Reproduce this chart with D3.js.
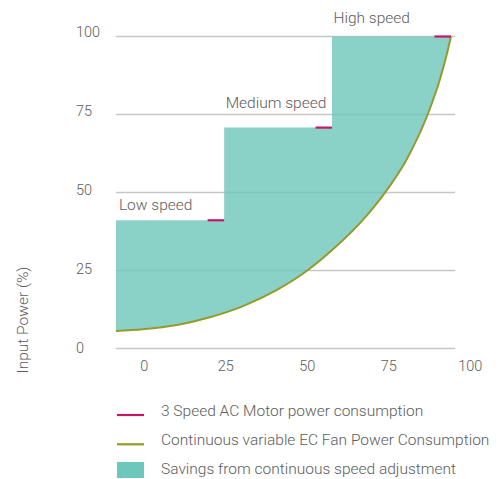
<!DOCTYPE html>
<html>
<head>
<meta charset="utf-8">
<script src="https://cdn.jsdelivr.net/npm/d3@7"></script>
<style>
  body { margin: 0; background: #fff; }
  svg { display: block; font-family: Roboto, "Open Sans", sans-serif; }
</style>
</head>
<body>
<svg id="chart" width="499" height="479"></svg>
<script>
// ---- data ----
const xTicks = [0, 25, 50, 75, 100];
const yTicks = [0, 25, 50, 75, 100];
const speedNames = ["Low speed", "Medium speed", "High speed"];
const stepStart = [-8.7, 24.5, 57.6];
const stepEnd = [24.5, 57.6, 94.1];
const stepPower = [41.1, 70.8, 100];
const curveSpeed = [-8.7, -0.4, 10.0, 20.1, 30.3, 40.7, 49.6, 57.9, 68.3, 73.8, 80.5, 87.1, 90.7, 92.8, 94.1];
const curvePower = [5.6, 6.15, 7.5, 10.0, 13.6, 18.8, 24.7, 31.8, 42.7, 49.9, 60.6, 75.4, 86.2, 94.2, 100];
const gridExtent = [-8.7, 95.4];
const legendLabels = [
  "3 Speed AC Motor power consumption",
  "Continuous variable EC Fan Power Consumption",
  "Savings from continuous speed adjustment"
];
const yTitle = "Input Power (%)";

// ---- styles ----
const C = {
  text: "#5c5c5c",
  grid: "#c6c6c6",
  fill: "#6dc7ba",
  curve: "#969a2c",
  marker: "#c4176c"
};
const FS = 15.5, FT = 14.5, FW = 300;

const svg = d3.select("#chart");
const x = d3.scaleLinear().domain([0, 100]).range([144.3, 470.2]);
const y = d3.scaleLinear().domain([0, 100]).range([348.5, 36.5]);
const yLab = d3.scaleLinear().domain([0, 100]).range([348, 31.7]);

// gridlines
svg.append("g").selectAll("line").data(yTicks).join("line")
  .attr("x1", x(gridExtent[0])).attr("x2", x(gridExtent[1]))
  .attr("y1", d => y(d)).attr("y2", d => y(d))
  .attr("stroke", C.grid).attr("stroke-width", 1.6);

// y tick labels
svg.append("g").selectAll("text").data(yTicks).join("text")
  .attr("x", 76).attr("y", d => yLab(d)).attr("dy", "0.35em")
  .attr("fill", C.text).attr("font-size", FT).attr("font-weight", FW)
  .text(d => d);

// x tick labels
svg.append("g").selectAll("text").data(xTicks).join("text")
  .attr("x", d => x(d)).attr("y", 366).attr("dy", "0.35em")
  .attr("text-anchor", "middle")
  .attr("fill", C.text).attr("font-size", FT).attr("font-weight", FW)
  .text(d => d);

// y title
svg.append("text")
  .attr("transform", "translate(22.5,320) rotate(-90)")
  .attr("text-anchor", "middle").attr("dy", "0.35em")
  .attr("fill", C.text).attr("font-size", FS).attr("font-weight", FW)
  .text(yTitle);

// savings area: curve left->right then steps back
const curvePts = curveSpeed.map((s, i) => [s, curvePower[i]]);
const curveLine = d3.line().x(d => x(d[0])).y(d => y(d[1])).curve(d3.curveMonotoneX);
const stepPts = [];
for (let i = stepStart.length - 1; i >= 0; i--) {
  stepPts.push([stepEnd[i], stepPower[i]]);
  stepPts.push([stepStart[i], stepPower[i]]);
}
const areaPath = curveLine(curvePts) + stepPts.map(p => "L" + x(p[0]) + "," + y(p[1])).join("") + "Z";
svg.append("path").attr("d", areaPath)
  .attr("fill", C.fill).attr("fill-opacity", 0.8);

// EC curve
svg.append("path").attr("d", curveLine(curvePts))
  .attr("fill", "none").attr("stroke", C.curve).attr("stroke-width", 2);

// AC motor markers
svg.append("g").selectAll("line").data(stepEnd).join("line")
  .attr("x1", d => x(d) - 16.5).attr("x2", d => x(d))
  .attr("y1", (d, i) => y(stepPower[i])).attr("y2", (d, i) => y(stepPower[i]))
  .attr("stroke", C.marker).attr("stroke-width", 2.2);

// speed labels
const labelOffset = [15.6, 25, 18.8];
svg.append("g").selectAll("text").data(speedNames).join("text")
  .attr("x", (d, i) => x(stepStart[i]) + (i === 0 ? 3 : 1.5))
  .attr("y", (d, i) => y(stepPower[i]) - labelOffset[i]).attr("dy", "0.35em")
  .attr("fill", C.text).attr("font-size", FS).attr("font-weight", FW)
  .text(d => d);

// legend
const lg = svg.append("g");
const rowY = [411, 440, 469];
lg.append("line").attr("x1", 117).attr("x2", 144).attr("y1", 415).attr("y2", 415)
  .attr("stroke", C.marker).attr("stroke-width", 2.2);
lg.append("line").attr("x1", 117).attr("x2", 144).attr("y1", 444.3).attr("y2", 444.3)
  .attr("stroke", C.curve).attr("stroke-width", 2.2);
lg.append("rect").attr("x", 117).attr("y", 462).attr("width", 27).attr("height", 16)
  .attr("fill", C.fill);
lg.selectAll("text").data(legendLabels).join("text")
  .attr("x", 161).attr("y", (d, i) => rowY[i]).attr("dy", "0.35em")
  .attr("fill", C.text).attr("font-size", FS).attr("font-weight", FW)
  .text(d => d);
</script>
</body>
</html>
